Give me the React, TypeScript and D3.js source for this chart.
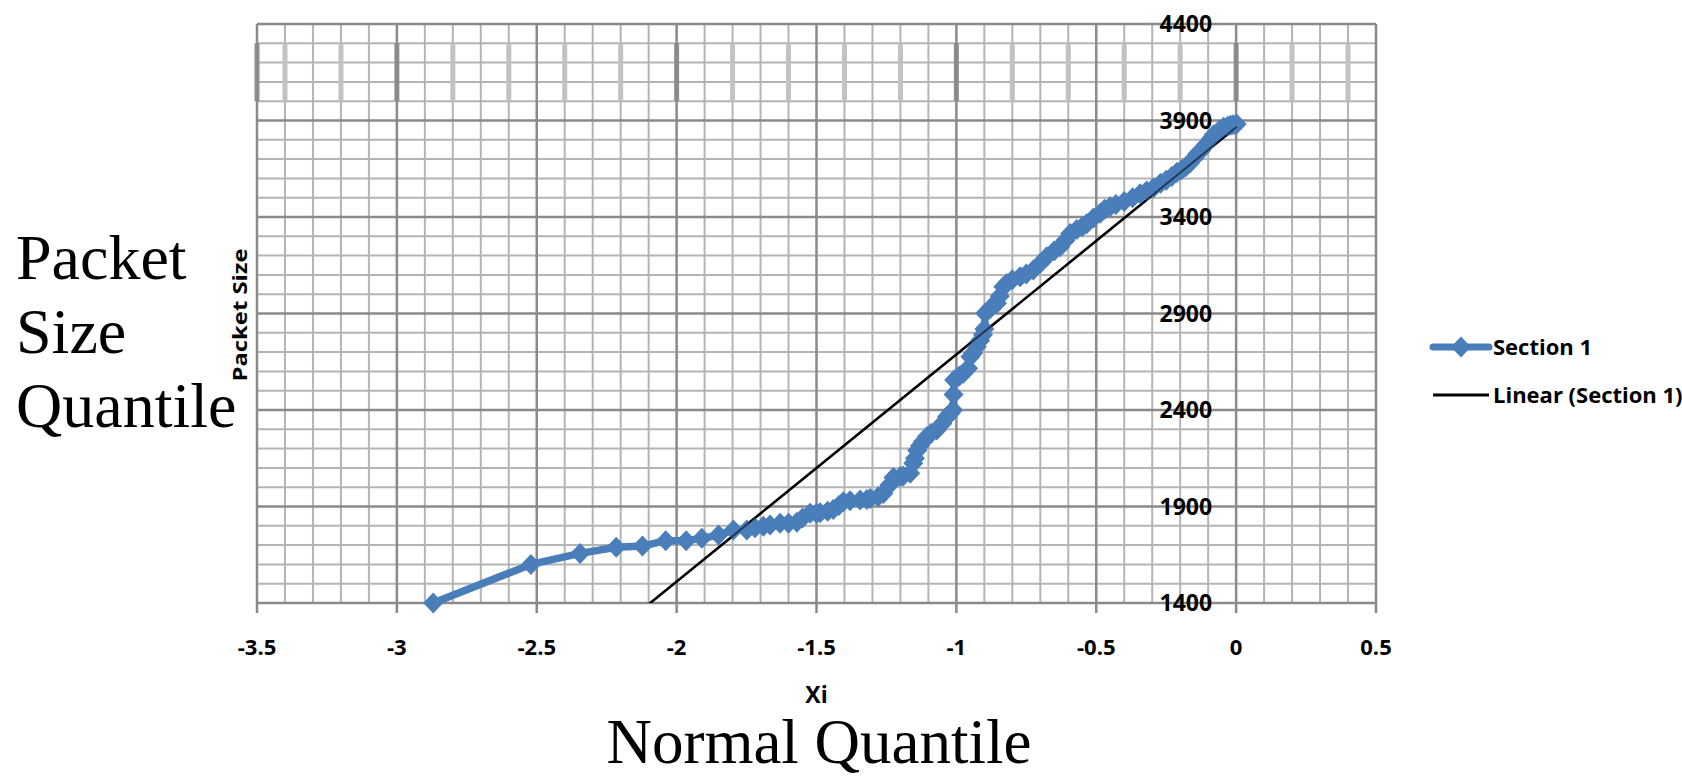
import React, { useEffect } from 'react';
import * as d3 from 'd3';

// ---------- data ----------
const X_TICKS = [-3.5, -3, -2.5, -2, -1.5, -1, -0.5, 0, 0.5];
const X_TICK_LABELS = ['-3.5', '-3', '-2.5', '-2', '-1.5', '-1', '-0.5', '0', '0.5'];
const Y_TICKS = [1400, 1900, 2400, 2900, 3400, 3900, 4400];
const Y_TICK_LABELS = ['1400', '1900', '2400', '2900', '3400', '3900', '4400'];

const SECTION1_X = [
  -2.87, -2.521, -2.345, -2.216, -2.122, -2.039, -1.966, -1.91, -1.85, -1.797,
  -1.749, -1.72, -1.69, -1.666, -1.63, -1.6, -1.57, -1.55, -1.523, -1.5,
  -1.487, -1.46, -1.44, -1.42, -1.404, -1.38, -1.344, -1.32, -1.308, -1.28,
  -1.261, -1.24, -1.225, -1.2, -1.19, -1.165, -1.154, -1.148, -1.14, -1.13,
  -1.12, -1.106, -1.09, -1.07, -1.05, -1.034, -1.02, -1.012, -1.01, -1.008,
  -0.99, -0.975, -0.958, -0.95, -0.94, -0.927, -0.915, -0.905, -0.9, -0.897,
  -0.88, -0.87, -0.855, -0.845, -0.832, -0.82, -0.8, -0.772, -0.75, -0.725,
  -0.7, -0.677, -0.65, -0.629, -0.61, -0.593, -0.57, -0.55, -0.534, -0.51,
  -0.486, -0.47, -0.45, -0.43, -0.4, -0.37, -0.343, -0.32, -0.296, -0.27,
  -0.25, -0.23, -0.212, -0.195, -0.18, -0.165, -0.153, -0.14, -0.125, -0.105,
  -0.09, -0.081, -0.06, -0.045, -0.03, -0.02, -0.01, 0.002,
];
const SECTION1_Y = [
  1400, 1600, 1657, 1689, 1695, 1723, 1723, 1735, 1752, 1778,
  1778, 1790, 1798, 1804, 1813, 1813, 1818, 1840, 1865, 1865,
  1868, 1875, 1885, 1905, 1925, 1930, 1934, 1936, 1942, 1950,
  1968, 2010, 2050, 2055, 2058, 2072, 2124, 2150, 2190, 2215,
  2235, 2262, 2280, 2296, 2330, 2365, 2385, 2400, 2480, 2555,
  2575, 2590, 2616, 2676, 2695, 2728, 2760, 2790, 2820, 2901,
  2925, 2940, 2953, 2990, 3039, 3055, 3075, 3091, 3105, 3125,
  3160, 3194, 3225, 3246, 3280, 3315, 3335, 3350, 3365, 3395,
  3419, 3440, 3455, 3465, 3480, 3500, 3520, 3535, 3550, 3575,
  3590, 3610, 3630, 3645, 3660, 3680, 3700, 3725, 3745, 3780,
  3805, 3825, 3850, 3865, 3870, 3875, 3878, 3882,
];

const TREND_INTERCEPT = 3865;
const TREND_SLOPE = 1177;

const LEGEND_LABELS = ['Section 1', 'Linear (Section 1)'];
const X_TITLE = 'Xi';
const Y_TITLE = 'Packet Size';
const BIG_Y_TITLE = ['Packet', 'Size', 'Quantile'];
const BIG_X_TITLE = 'Normal Quantile';

// ---------- layout ----------
const W = 1682;
const H = 778;
const PL = 257, PR = 1376, PT = 24, PB = 603;
const BLUE = '#4a7ebb';
const MINOR = '#b4b4b4';
const MAJOR = '#8a8a8a';
const TICK_FONT = '"Open Sans", "DejaVu Sans", sans-serif';
const SERIF = '"Liberation Serif", "Times New Roman", serif';

const diamond = (cx: number, cy: number, rx = 10, ry = 10.5) =>
  `M${cx},${cy - ry}L${cx + rx},${cy}L${cx},${cy + ry}L${cx - rx},${cy}Z`;

export default function App() {
  useEffect(() => {
    document.body.style.margin = '0';
    document.body.style.overflow = 'hidden';
  }, []);

  const x = d3.scaleLinear().domain([-3.5, 0.5]).range([PL, PR]);
  const y = d3.scaleLinear().domain([1400, 4400]).range([PB, PT]);

  const minorX = d3.range(0, 41).map((i) => -3.5 + i * 0.1);
  const minorY = d3.range(0, 31).map((i) => 1400 + i * 100);
  const isMajorX = (v: number) => Math.abs(v * 2 - Math.round(v * 2)) < 1e-6;
  const isMajorY = (v: number) => Math.abs((v - 1400) % 500) < 1e-6;

  // band of thicker vertical line segments (between 4000 and 4300) seen in the source
  const bandX = [-3.5, ...d3.range(-17, 3).map((k) => k * 0.2)];

  const pts = SECTION1_X.map((xv, i) => [xv, SECTION1_Y[i]] as [number, number]);
  const line = d3
    .line<[number, number]>()
    .x((d) => x(d[0]))
    .y((d) => y(d[1]));

  const xMin = d3.min(SECTION1_X) as number;
  const xMax = d3.max(SECTION1_X) as number;
  const trend: [number, number][] = [
    [xMin, TREND_INTERCEPT + TREND_SLOPE * xMin],
    [xMax, TREND_INTERCEPT + TREND_SLOPE * xMax],
  ];

  return (
    <svg
      width={W}
      height={H}
      style={{ position: 'absolute', left: 0, top: 0, background: '#fff' }}
    >
      <defs>
        <clipPath id="plotClip">
          <rect x={PL} y={PT} width={PR - PL} height={PB - PT} />
        </clipPath>
      </defs>
      <rect x={0} y={0} width={W} height={H} fill="#fff" />

      {/* minor grid */}
      {minorX
        .filter((v) => !isMajorX(v))
        .map((v, i) => (
          <line key={'mx' + i} x1={x(v)} x2={x(v)} y1={PT} y2={PB} stroke={MINOR} strokeWidth={2} />
        ))}
      {minorY
        .filter((v) => !isMajorY(v))
        .map((v, i) => (
          <line key={'my' + i} x1={PL} x2={PR} y1={y(v)} y2={y(v)} stroke={MINOR} strokeWidth={2} />
        ))}
      {/* band */}
      {bandX.map((v, i) => {
        const dark = Math.abs(v - Math.round(v)) < 1e-6 || v === -3.5;
        return (
          <rect
            key={'b' + i}
            x={x(v) - 2.5}
            y={y(4300)}
            width={5}
            height={y(4000) - y(4300)}
            fill={dark ? '#8f8f8f' : '#c2c2c2'}
          />
        );
      })}
      {/* major grid */}
      {X_TICKS.map((v, i) => (
        <line key={'Mx' + i} x1={x(v)} x2={x(v)} y1={PT} y2={PB + 10} stroke={MAJOR} strokeWidth={2.5} />
      ))}
      {Y_TICKS.map((v, i) => (
        <line key={'My' + i} x1={PL} x2={PR} y1={y(v)} y2={y(v)} stroke={MAJOR} strokeWidth={2.5} />
      ))}

      {/* y tick labels */}
      {Y_TICKS.map((v, i) => (
        <text
          key={'yl' + i}
          x={x(0) - 24}
          y={y(v)}
          dy="0.36em"
          textAnchor="end"
          fontFamily={TICK_FONT}
          fontWeight={700}
          fontSize={23}
          fill="#000"
        >
          {Y_TICK_LABELS[i]}
        </text>
      ))}

      {/* series */}
      <g clipPath="url(#plotClip)">
        <path d={line(trend) || ''} fill="none" stroke="#000" strokeWidth={2.5} />
      </g>
      <path
        d={line(pts) || ''}
        fill="none"
        stroke={BLUE}
        strokeWidth={7.5}
        strokeLinejoin="round"
        strokeLinecap="round"
      />
      {pts.map((p, i) => (
        <path key={'d' + i} d={diamond(x(p[0]), y(p[1]))} fill={BLUE} />
      ))}
      <g clipPath="url(#plotClip)">
        <path d={line(trend) || ''} fill="none" stroke="#000" strokeWidth={2} opacity={0.55} />
      </g>

      {/* x tick labels */}
      {X_TICKS.map((v, i) => (
        <text
          key={'xl' + i}
          x={x(v)}
          y={647}
          dy="0.36em"
          textAnchor="middle"
          fontFamily={TICK_FONT}
          fontWeight={700}
          fontSize={22}
          fill="#000"
        >
          {X_TICK_LABELS[i]}
        </text>
      ))}

      {/* axis titles */}
      <text
        x={(PL + PR) / 2}
        y={703}
        textAnchor="middle"
        fontFamily={TICK_FONT}
        fontWeight={700}
        fontSize={23}
      >
        {X_TITLE}
      </text>
      <text
        transform={`translate(240,315) rotate(-90)`}
        x={0}
        y={0}
        dy="0.36em"
        textAnchor="middle"
        fontFamily={TICK_FONT}
        fontWeight={700}
        fontSize={19}
        textLength={133}
        lengthAdjust="spacingAndGlyphs"
      >
        {Y_TITLE}
      </text>

      {/* legend */}
      <line x1={1433} x2={1489} y1={347} y2={347} stroke={BLUE} strokeWidth={7} strokeLinecap="round" />
      <path d={diamond(1461, 347)} fill={BLUE} />
      <text x={1493} y={347} dy="0.36em" fontFamily={TICK_FONT} fontWeight={700} fontSize={22}>
        {LEGEND_LABELS[0]}
      </text>
      <line x1={1433} x2={1489} y1={395} y2={395} stroke="#000" strokeWidth={3} />
      <text x={1493} y={395} dy="0.36em" fontFamily={TICK_FONT} fontWeight={700} fontSize={22}>
        {LEGEND_LABELS[1]}
      </text>

      {/* big serif titles */}
      {BIG_Y_TITLE.map((t, i) => (
        <text key={'bt' + i} x={16} y={279 + i * 74} fontFamily={SERIF} fontSize={64} fill="#000">
          {t}
        </text>
      ))}
      <text x={819} y={763} textAnchor="middle" fontFamily={SERIF} fontSize={63} fill="#000">
        {BIG_X_TITLE}
      </text>
    </svg>
  );
}
